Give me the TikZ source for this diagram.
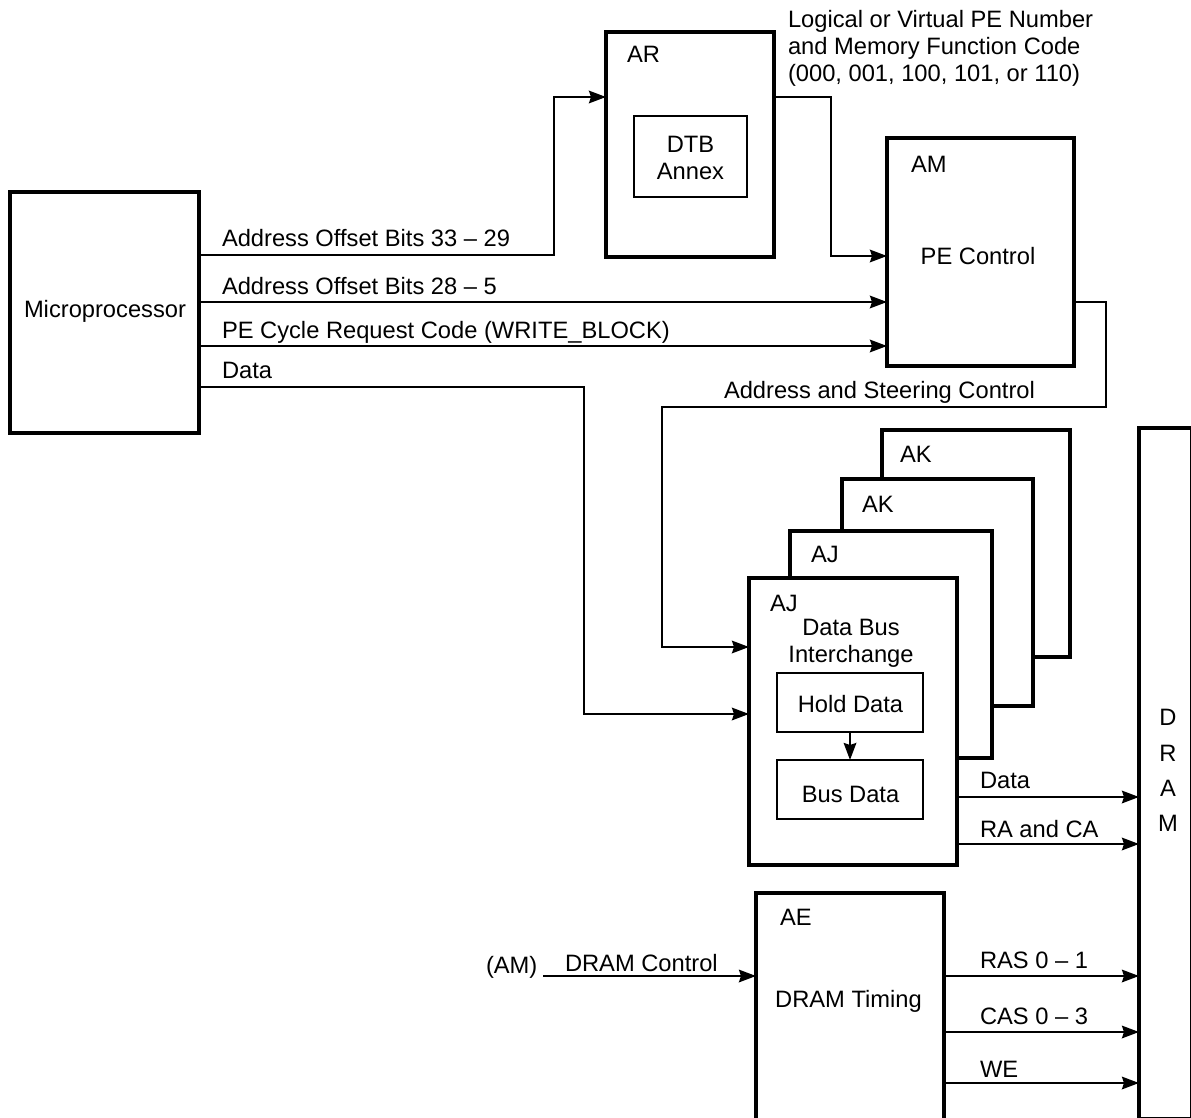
\documentclass[tikz,border=0pt]{standalone}
\usepackage{fontspec}
\setmainfont{Liberation Sans}
\usetikzlibrary{arrows.meta}
\begin{document}
\begin{tikzpicture}[x=1pt,y=-1pt,
  every node/.style={inner sep=0pt,outer sep=0pt},
  txt/.style={font=\fontsize{23.7}{27}\selectfont},
  blk/.style={draw,line width=3.5pt,fill=white,rectangle},
  inblk/.style={draw,line width=2.6pt,fill=white,rectangle},
  conn/.style={line width=2.4pt},
  arr/.style={-{Stealth[length=17pt,width=12.5pt,inset=2pt]}}
]
\useasboundingbox (0,0) rectangle (1191,1118);
\clip (0,0) rectangle (1191,1118);

% ---- blocks ----
\node[blk,minimum width=189pt,minimum height=241pt] (mp) at (104.5,312.5) {};
\node[blk,minimum width=168pt,minimum height=225pt] (ar) at (690,144.5) {};
\node[inblk,minimum width=113pt,minimum height=81pt] (dtb) at (690.5,156.5) {};
\node[blk,minimum width=187pt,minimum height=228pt] (am) at (980.5,252) {};
% stacked interchange boards, back to front
\node[blk,minimum width=188pt,minimum height=227pt] (akb) at (976,543.5) {};
\node[blk,minimum width=191pt,minimum height=227pt] (akf) at (937.5,592.5) {};
\node[blk,minimum width=202pt,minimum height=227pt] (ajb) at (891,644.5) {};
\node[blk,minimum width=208pt,minimum height=287pt] (ajf) at (853,721.5) {};
\node[inblk,minimum width=146pt,minimum height=59pt] (hold) at (850,702.5) {};
\node[inblk,minimum width=146pt,minimum height=59pt] (bus) at (850,789.5) {};
\node[blk,minimum width=188pt,minimum height=257pt] (ae) at (850,1021.5) {};
\node[blk,minimum width=53pt,minimum height=690.5pt] (dram) at (1165.5,773.25) {};

% ---- block texts ----
\node[txt,anchor=base] (tmp) at (105,317) {Microprocessor};
\node[txt,anchor=base west] (tar) at (627,63) {AR};
\node[txt,anchor=base] (tdtb1) at (690.5,153) {DTB};
\node[txt,anchor=base] (tdtb2) at (690.5,180) {Annex};
\node[txt,anchor=base west] (tam) at (911,173) {AM};
\node[txt,anchor=base] (tpec) at (978,264) {PE Control};
\node[txt,anchor=base west] (takb) at (900,462) {AK};
\node[txt,anchor=base west] (takf) at (862,512) {AK};
\node[txt,anchor=base west] (tajb) at (811,562) {AJ};
\node[txt,anchor=base west] (tajf) at (770,611) {AJ};
\node[txt,anchor=base] (tdbi1) at (851,635) {Data Bus};
\node[txt,anchor=base] (tdbi2) at (851,662) {Interchange};
\node[txt,anchor=base] (thold) at (850.5,712) {Hold Data};
\node[txt,anchor=base] (tbus) at (850.5,802) {Bus Data};
\node[txt,anchor=base west] (tae) at (780,925) {AE};
\node[txt,anchor=base] (ttim) at (848.5,1007) {DRAM Timing};
\node[txt,anchor=base] (td) at (1168,725) {D};
\node[txt,anchor=base] (tr) at (1168,761) {R};
\node[txt,anchor=base] (ta) at (1168,796) {A};
\node[txt,anchor=base] (tm) at (1168,831) {M};

% ---- signal texts ----
\node[txt,anchor=base west] (l1) at (222,246) {Address Offset Bits 33 \textendash{} 29};
\node[txt,anchor=base west] (l2) at (222,294) {Address Offset Bits 28 \textendash{} 5};
\node[txt,anchor=base west] (l3) at (222,338) {PE Cycle Request Code (WRITE\_BLOCK)};
\node[txt,anchor=base west] (l4) at (222,378) {Data};
\node[txt,anchor=base west] (lpe1) at (788,28) {Logical or Virtual PE Number};
\node[txt,anchor=base west] (lpe2) at (788,55) {and Memory Function Code};
\node[txt,anchor=base west] (lpe3) at (788,82) {(000, 001, 100, 101, or 110)};
\node[txt,anchor=base west] (lsc) at (724,398) {Address and Steering Control};
\node[txt,anchor=base west] (ldat) at (980,788) {Data};
\node[txt,anchor=base west] (lrc) at (980,837) {RA and CA};
\node[txt,anchor=base west] (lam) at (486,973) {(AM)};
\node[txt,anchor=base west] (ldc) at (565,971) {DRAM Control};
\node[txt,anchor=base west] (lras) at (980,968) {RAS 0 \textendash{} 1};
\node[txt,anchor=base west] (lcas) at (980,1024) {CAS 0 \textendash{} 3};
\node[txt,anchor=base west] (lwe) at (980,1077) {WE};

% ---- connectors ----
\coordinate (hiA) at (554,255);
\coordinate (hiB) at (554,97);
\draw[conn,arr] (mp.east |- hiA) -- (hiA) -- (hiB) -- (ar.west |- hiB);

\coordinate (loA) at (0,302);
\draw[conn,arr] (mp.east |- loA) -- (am.west |- loA);
\coordinate (pcA) at (0,346);
\draw[conn,arr] (mp.east |- pcA) -- (am.west |- pcA);

\coordinate (dA) at (584,387);
\coordinate (dB) at (584,714);
\draw[conn,arr] (mp.east |- dA) -- (dA) -- (dB) -- (ajf.west |- dB);

\coordinate (lnA) at (831,97);
\coordinate (lnB) at (831,256);
\draw[conn,arr] (ar.east |- lnA) -- (lnA) -- (lnB) -- (am.west |- lnB);

\coordinate (scA) at (1106,302);
\coordinate (scB) at (1106,407);
\coordinate (scC) at (662,407);
\coordinate (scD) at (662,647);
\draw[conn,arr] (am.east |- scA) -- (scA) -- (scB) -- (scC) -- (scD) -- (ajf.west |- scD);

\draw[conn,arr] (hold.south) -- (bus.north);

\coordinate (bd) at (0,797);
\coordinate (rc) at (0,844);
\draw[conn,arr] (ajf.east |- bd) -- (dram.west |- bd);
\draw[conn,arr] (ajf.east |- rc) -- (dram.west |- rc);

\coordinate (dc) at (543,976);
\draw[conn,arr] (dc) -- (ae.west |- dc);

\coordinate (ras) at (0,976);
\coordinate (cas) at (0,1032);
\coordinate (we) at (0,1083);
\draw[conn,arr] (ae.east |- ras) -- (dram.west |- ras);
\draw[conn,arr] (ae.east |- cas) -- (dram.west |- cas);
\draw[conn,arr] (ae.east |- we) -- (dram.west |- we);
\end{tikzpicture}
\end{document}
